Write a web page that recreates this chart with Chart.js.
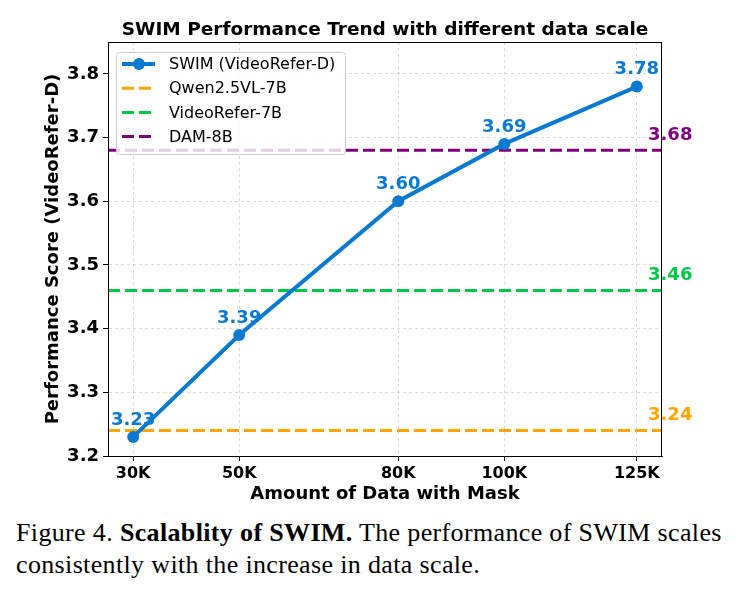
<!DOCTYPE html>
<html lang="en">
<head>
<meta charset="UTF-8">
<title>SWIM Performance Trend</title>
<style>
  html, body { margin: 0; padding: 0; background: #fff; }
  .canvas_box { position: absolute; left: 0; top: 0; width: 740px; height: 510px; }
  .caption {
    position: absolute; left: 16px; top: 517px; width: 724px;
    font-family: 'Liberation Serif', 'Times New Roman', serif;
    font-size: 26px; letter-spacing: 0.35px; line-height: 32px; color: #000;
  }
</style>
<script src="https://cdn.jsdelivr.net/npm/chart.js@4.4.6/dist/chart.umd.min.js"></script>
</head>
<body>
<div class="canvas_box">
  <canvas id="myChart" width="740" height="510"></canvas>
</div>
<div class="caption">Figure 4. <b>Scalablity of SWIM.</b> The performance of SWIM scales consistently with the increase in data scale.</div>
<script>
// data
const dataSizes = [30, 50, 80, 100, 125];          // K samples with mask
const swimScores = [3.23, 3.39, 3.60, 3.69, 3.78];
const baselineNames = ['Qwen2.5VL-7B', 'VideoRefer-7B', 'DAM-8B'];
const baselineScores = [3.24, 3.46, 3.68];
const yTicks = [3.2, 3.3, 3.4, 3.5, 3.6, 3.7, 3.8];

const xMin = 25.25, xMax = 129.75;
const yMin = 3.2, yMax = 3.85;

const swimColor = '#0a79d2';
const baselineColors = ['#ffa500', '#00c846', '#800080'];
const FONT = "'DejaVu Sans', sans-serif";
const DASH = [12, 5];

const datasets = [];
baselineNames.forEach(function(name, i) {
  datasets.push({
    label: name,
    data: [{x: xMin, y: baselineScores[i]}, {x: xMax, y: baselineScores[i]}],
    borderColor: baselineColors[i],
    borderWidth: 3,
    borderDash: DASH,
    pointRadius: 0,
    order: 2
  });
});
datasets.push({
  label: 'SWIM (VideoRefer-D)',
  data: dataSizes.map(function(x, i) { return {x: x, y: swimScores[i]}; }),
  borderColor: swimColor,
  backgroundColor: swimColor,
  borderWidth: 4,
  pointRadius: 6,
  pointBorderWidth: 0,
  pointBackgroundColor: swimColor,
  order: 1
});

// title, frame, value labels and the in-plot legend
const decor = {
  id: 'decor',
  afterDatasetsDraw: function(chart) {
    const ctx = chart.ctx, a = chart.chartArea;
    const xs = chart.scales.x, ys = chart.scales.y;
    ctx.save();
    // frame
    ctx.strokeStyle = '#000';
    ctx.lineWidth = 1;
    ctx.strokeRect(a.left + 0.5, a.top + 0.5, a.right - a.left - 1, a.bottom - a.top);

    ctx.font = 'bold 18px ' + FONT;
    // value labels
    ctx.fillStyle = swimColor;
    ctx.textAlign = 'center';
    ctx.textBaseline = 'bottom';
    dataSizes.forEach(function(x, i) {
      ctx.fillText(swimScores[i].toFixed(2), xs.getPixelForValue(x), ys.getPixelForValue(swimScores[i]) - 8);
    });
    // baseline labels at the right
    ctx.textAlign = 'left';
    baselineScores.forEach(function(v, i) {
      ctx.fillStyle = baselineColors[i];
      ctx.fillText(v.toFixed(2), a.right - 14, ys.getPixelForValue(v) - 6);
    });

    // title
    ctx.fillStyle = '#000';
    ctx.textAlign = 'center';
    ctx.textBaseline = 'middle';
    ctx.font = 'bold 18.5px ' + FONT;
    ctx.fillText('SWIM Performance Trend with different data scale', (a.left + a.right) / 2, 30);

    // legend
    const bx = a.left + 8, by = a.top + 10, bw = 229, bh = 102;
    ctx.beginPath();
    ctx.roundRect(bx + 0.5, by + 0.5, bw, bh, 3);
    ctx.fillStyle = 'rgba(255,255,255,0.8)';
    ctx.fill();
    ctx.strokeStyle = '#cccccc';
    ctx.lineWidth = 1;
    ctx.stroke();

    const items = [{name: 'SWIM (VideoRefer-D)', color: swimColor, marker: true}];
    baselineNames.forEach(function(n, i) { items.push({name: n, color: baselineColors[i], marker: false}); });
    ctx.font = '16px ' + FONT;
    ctx.textAlign = 'left';
    ctx.textBaseline = 'middle';
    items.forEach(function(it, i) {
      const cy = by + 12 + i * 24.2;
      ctx.strokeStyle = it.color;
      ctx.lineWidth = it.marker ? 4 : 3;
      ctx.setLineDash(it.marker ? [] : DASH);
      ctx.beginPath();
      ctx.moveTo(bx + 6, cy);
      ctx.lineTo(bx + 39, cy);
      ctx.stroke();
      ctx.setLineDash([]);
      if (it.marker) {
        ctx.fillStyle = it.color;
        ctx.beginPath();
        ctx.arc(bx + 23, cy, 6, 0, Math.PI * 2);
        ctx.fill();
      }
      ctx.fillStyle = '#000';
      ctx.fillText(it.name, bx + 53, cy + 1);
    });
    ctx.restore();
  }
};

const ctx = document.getElementById('myChart');
const myChart = new Chart(ctx, {
  type: 'line',
  data: { datasets: datasets },
  plugins: [decor],
  options: {
    responsive: false,
    animation: false,
    layout: { padding: { left: 0, right: 78, top: 42, bottom: 0 } },
    plugins: {
      legend: { display: false },
      title: { display: false },
      tooltip: { enabled: false }
    },
    scales: {
      x: {
        type: 'linear',
        min: xMin,
        max: xMax,
        afterBuildTicks: function(s) { s.ticks = dataSizes.map(function(v) { return {value: v}; }); },
        afterFit: function(s) { s.height = 54; },
        grid: {
          color: 'rgba(176,176,176,0.6)',
          lineWidth: 0.8,
          tickLength: 5,
          tickColor: '#000',
          tickWidth: 1,
          tickBorderDash: []
        },
        border: { display: true, color: '#000', width: 1, dash: [3, 3] },
        ticks: {
          color: '#000',
          padding: 3,
          maxRotation: 0,
          font: { family: FONT, size: 16, weight: 'bold' },
          callback: function(v) { return v + 'K'; }
        },
        title: {
          display: true,
          text: 'Amount of Data with Mask',
          color: '#000',
          padding: { top: 0, bottom: 7 },
          font: { family: FONT, size: 18, weight: 'bold', lineHeight: 1 }
        }
      },
      y: {
        min: yMin,
        max: yMax,
        afterBuildTicks: function(s) { s.ticks = yTicks.map(function(v) { return {value: v}; }); },
        afterFit: function(s) { s.width = 108; },
        grid: {
          color: 'rgba(176,176,176,0.6)',
          lineWidth: 0.8,
          tickLength: 5,
          tickColor: '#000',
          tickWidth: 1,
          tickBorderDash: []
        },
        border: { display: true, color: '#000', width: 1, dash: [3, 3] },
        ticks: {
          color: '#000',
          padding: 4,
          font: { family: FONT, size: 18, weight: 'bold' },
          callback: function(v) { return Number(v).toFixed(1); }
        },
        title: {
          display: true,
          text: 'Performance Score (VideoRefer-D)',
          color: '#000',
          padding: { top: 44, bottom: 0 },
          font: { family: FONT, size: 18, weight: 'bold', lineHeight: 1 }
        }
      }
    }
  }
});
</script>
</body>
</html>
